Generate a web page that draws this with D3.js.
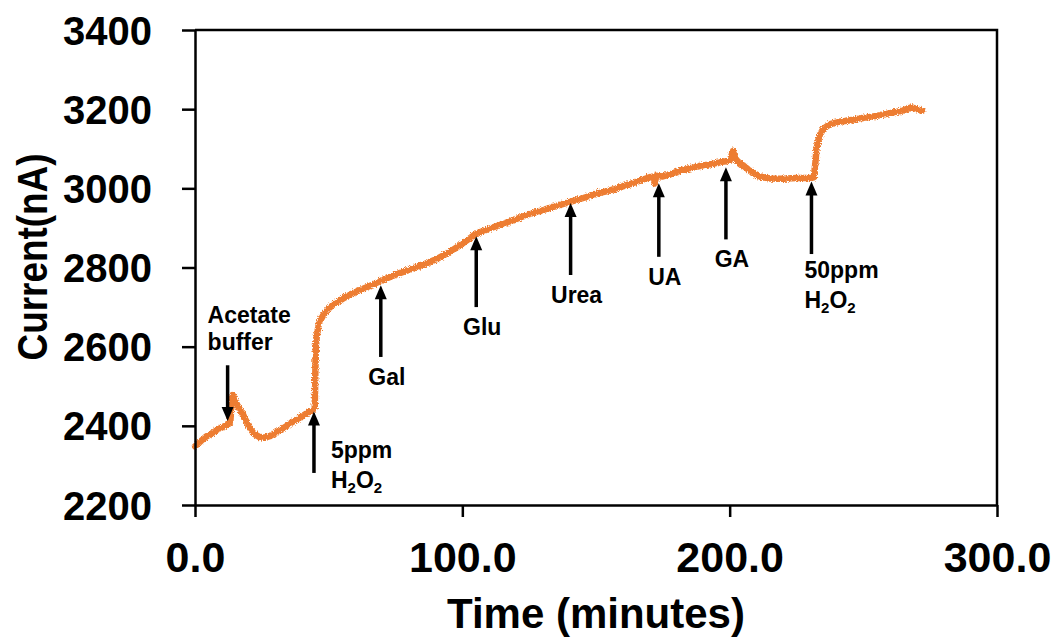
<!DOCTYPE html>
<html>
<head>
<meta charset="utf-8">
<script src="https://cdn.jsdelivr.net/npm/d3@7"></script>
<style>
  html, body { margin: 0; padding: 0; background: #fff; }
  svg { display: block; font-family: "Liberation Sans", Arial, sans-serif; font-weight: bold; }
</style>
</head>
<body>
<svg id="chart" width="1057" height="638"></svg>
<script>
// Amperometric trace: time (minutes) and current (nA)
const timeMin = [
  0, 2, 4, 6, 8, 10, 12, 13.2,
  13.6, 14.1, 14.6, 16, 18, 20, 22, 24, 26, 28, 30, 32, 34, 36, 38, 40, 42, 44, 44.8,
  45.0, 45.2, 45.6, 46.4, 48, 50, 52, 55, 58, 62, 66, 70, 75, 80, 85, 90, 95, 100, 105,
  110, 115, 120, 125, 130, 135, 140, 145, 150, 155, 160, 165, 170, 171.5, 172, 172.5,
  175, 178, 182, 186, 190, 194, 198, 200, 200.8, 201.3, 201.8, 203, 205, 208, 211, 215,
  220, 225, 230, 231.5, 232, 232.5, 233.5, 235, 237.5, 241, 245, 250, 255, 260, 265,
  268, 270, 272
];
const currentNA = [
  2348, 2360, 2372, 2380, 2388, 2396, 2402, 2408,
  2450, 2478, 2470, 2450, 2428, 2400, 2380, 2372, 2370, 2374, 2382, 2390, 2398, 2408, 2416, 2424, 2432, 2440, 2446,
  2530, 2600, 2630, 2660, 2680, 2696, 2708, 2720, 2732, 2744, 2755, 2768, 2782, 2794, 2806, 2820, 2838, 2860, 2885,
  2898, 2910, 2922, 2935, 2945, 2955, 2965, 2975, 2986, 2994, 3005, 3016, 3028, 3030, 3012, 3032,
  3030, 3036, 3046, 3052, 3058, 3062, 3068, 3070, 3085, 3095, 3078, 3068, 3058, 3042, 3030, 3025,
  3024, 3026, 3026, 3028, 3060, 3100, 3132, 3150, 3162, 3168, 3172, 3178, 3183, 3190, 3197,
  3205, 3200, 3196
];

// Injection markers: label, time, arrow tip and tail current
const markerLabels = ["Acetate buffer", "5ppm H2O2", "Gal", "Glu", "Urea", "UA", "GA", "50ppm H2O2"];
const markerTimes  = [12.2, 44.5, 69.5, 105.2, 140.5, 173.5, 198.6, 230.6];
const markerTips   = [2412, 2436, 2755, 2879, 2963, 3013, 3053, 3017];
const markerTails  = [2553, 2281, 2574, 2700, 2781, 2827, 2871, 2834];

// Axis ticks
const yTicks = [2200, 2400, 2600, 2800, 3000, 3200, 3400];
const xTicks = [0, 100, 200, 300];

const svg = d3.select("#chart");
const x = d3.scaleLinear().domain([0, 300]).range([195, 997]);
const y = d3.scaleLinear().domain([2200, 3400]).range([505, 30]);
const orange = "#ED7D31";

// rough edge for the noisy recording
const defs = svg.append("defs");
const f = defs.append("filter").attr("id", "rough")
  .attr("filterUnits", "userSpaceOnUse")
  .attr("x", 0).attr("y", 0).attr("width", 1057).attr("height", 638);
f.append("feTurbulence").attr("type", "fractalNoise").attr("baseFrequency", 0.8)
  .attr("numOctaves", 2).attr("seed", 3).attr("result", "n");
f.append("feDisplacementMap").attr("in", "SourceGraphic").attr("in2", "n")
  .attr("scale", 4.5).attr("xChannelSelector", "R").attr("yChannelSelector", "G");

// trace
const pts = timeMin.map((t, i) => [t, currentNA[i]]);
svg.append("path")
  .datum(pts)
  .attr("fill", "none")
  .attr("stroke", orange)
  .attr("stroke-width", 6.5)
  .attr("stroke-linejoin", "round")
  .attr("stroke-linecap", "round")
  .attr("filter", "url(#rough)")
  .attr("d", d3.line().x(d => x(d[0])).y(d => y(d[1])));

// frame (top and right edges)
svg.append("path")
  .attr("fill", "none").attr("stroke", "#000").attr("stroke-width", 2.5)
  .attr("d", `M${x(0)},${y(3400)}H${x(300)}V${y(2200)}`);

// y axis
const gy = svg.append("g").attr("transform", `translate(${x(0)},0)`)
  .call(d3.axisLeft(y).tickValues(yTicks).tickFormat(d3.format("d")).tickSize(13).tickSizeOuter(0));
gy.select(".domain").attr("stroke-width", 2.5);
gy.selectAll(".tick line").attr("stroke-width", 2.5);
gy.selectAll(".tick text")
  .attr("x", -43).attr("dy", "0.35em")
  .attr("font-size", 40).attr("font-weight", "bold")
  .attr("font-family", "Liberation Sans, Arial, sans-serif").attr("fill", "#000");

// x axis
const gx = svg.append("g").attr("transform", `translate(0,${y(2200)})`)
  .call(d3.axisBottom(x).tickValues(xTicks).tickFormat(d3.format(".1f")).tickSize(12).tickSizeOuter(0));
gx.select(".domain").attr("stroke-width", 2.5);
gx.selectAll(".tick line").attr("stroke-width", 2.5);
gx.selectAll(".tick text")
  .attr("y", 67).attr("dy", 0)
  .attr("font-size", 43).attr("font-weight", "bold")
  .attr("font-family", "Liberation Sans, Arial, sans-serif").attr("fill", "#000");

// axis titles
svg.append("text")
  .attr("x", 596).attr("y", 628)
  .attr("text-anchor", "middle").attr("font-size", 42)
  .text("Time (minutes)");
svg.append("text")
  .attr("transform", "translate(47,257) rotate(-90)")
  .attr("text-anchor", "middle").attr("font-size", 42)
  .attr("textLength", 207).attr("lengthAdjust", "spacingAndGlyphs")
  .text("Current(nA)");

// marker arrows
const headLen = 14, headHalf = 6;
const ann = svg.append("g");
markerTimes.forEach((t, i) => {
  const ax = x(t), tip = y(markerTips[i]), tail = y(markerTails[i]);
  const dir = tip > tail ? 1 : -1; // 1 = pointing down
  ann.append("line")
    .attr("x1", ax).attr("x2", ax)
    .attr("y1", tail).attr("y2", tip - dir * (headLen - 1))
    .attr("stroke", "#000").attr("stroke-width", 3.5);
  ann.append("path")
    .attr("fill", "#000")
    .attr("d", `M${ax},${tip}L${ax - headHalf},${tip - dir * headLen}L${ax + headHalf},${tip - dir * headLen}Z`);
});

// marker labels
const fs = 23;
function h2o2(sel) {
  sel.append("tspan").text("H");
  sel.append("tspan").attr("font-size", 15).attr("dy", 5).text("2");
  sel.append("tspan").attr("dy", -5).text("O");
  sel.append("tspan").attr("font-size", 15).attr("dy", 5).text("2");
}
markerLabels.forEach((lab, i) => {
  const ax = x(markerTimes[i]), tail = y(markerTails[i]), tip = y(markerTips[i]);
  if (lab === "Acetate buffer") {
    ann.append("text").attr("x", ax - 20).attr("y", tail - 42).attr("font-size", fs).text("Acetate");
    ann.append("text").attr("x", ax - 20).attr("y", tail - 15).attr("font-size", fs).text("buffer");
  } else if (lab.endsWith("H2O2")) {
    const first = lab.split(" ")[0];
    const big = first === "50ppm";
    const lx = big ? ax - 7 : ax + 17;
    const ly = big ? tail + 24 : tip + 46;
    ann.append("text").attr("x", lx).attr("y", ly).attr("font-size", fs).text(first);
    const t2 = ann.append("text").attr("x", lx).attr("y", ly + 30).attr("font-size", fs);
    h2o2(t2);
  } else {
    ann.append("text").attr("x", ax + 6).attr("y", tail + 28)
      .attr("text-anchor", "middle").attr("font-size", fs).text(lab);
  }
});
</script>
</body>
</html>
